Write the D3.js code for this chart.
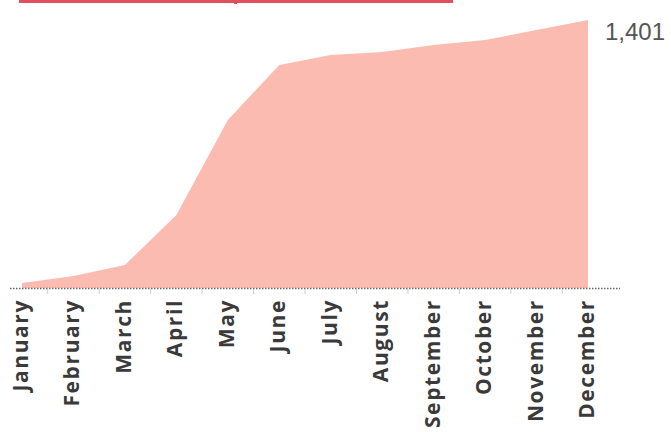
<!DOCTYPE html>
<html><head><meta charset="utf-8">
<script src="https://cdn.jsdelivr.net/npm/d3@7"></script>
<style>body{margin:0;background:#fff}svg{display:block}</style>
</head><body>
<svg id="c" width="671" height="432"></svg>
<script>
const months = ["January","February","March","April","May","June","July","August","September","October","November","December"];
const values = [26, 63, 120, 382, 878, 1166, 1218, 1234, 1270, 1296, 1349, 1401];
const endLabel = "1,401";

const svg = d3.select("#c");
const x = d3.scalePoint().domain(months).range([22, 588]);
const y = d3.scaleLinear().domain([0, 1401]).range([288, 20]);

// title underline (cropped title)
svg.append("rect").attr("x",19).attr("y",0).attr("width",434).attr("height",3).attr("fill","#e0505e");
svg.append("rect").attr("x",234).attr("y",3).attr("width",3).attr("height",1).attr("fill","#e0505e");

const area = d3.area().x((d,i)=>x(months[i])).y0(y(0)).y1(d=>y(d));
svg.append("path").datum(values).attr("d",area).attr("fill","#fcbbb1");

// baseline dotted
svg.append("line").attr("x1",10).attr("x2",620).attr("y1",288.5).attr("y2",288.5)
  .attr("stroke","#666").attr("stroke-width",1.3).attr("stroke-dasharray","1.5,1.5");

// minor ticks between months
const step = x.step();
svg.selectAll("line.mt").data(months.slice(0,-1)).join("line").attr("class","mt")
  .attr("x1",d=>x(d)+step/2).attr("x2",d=>x(d)+step/2).attr("y1",289).attr("y2",294)
  .attr("stroke","#ccc").attr("stroke-width",1);

// month labels
svg.selectAll("text.m").data(months).join("text").attr("class","m")
  .attr("transform",d=>`translate(${x(d)+6},299) rotate(-90)`)
  .attr("text-anchor","end")
  .attr("font-family","'Open Sans', Lato, sans-serif").attr("font-weight","bold")
  .attr("font-size",21).attr("letter-spacing",1.6).attr("fill","#3a3a3a").text(d=>d);

// end value label
svg.append("text").attr("x",605).attr("y",40)
  .attr("font-family","'Liberation Sans', Arial, sans-serif").attr("font-size",24)
  .attr("fill","#555").text(endLabel);
</script>
</body></html>
